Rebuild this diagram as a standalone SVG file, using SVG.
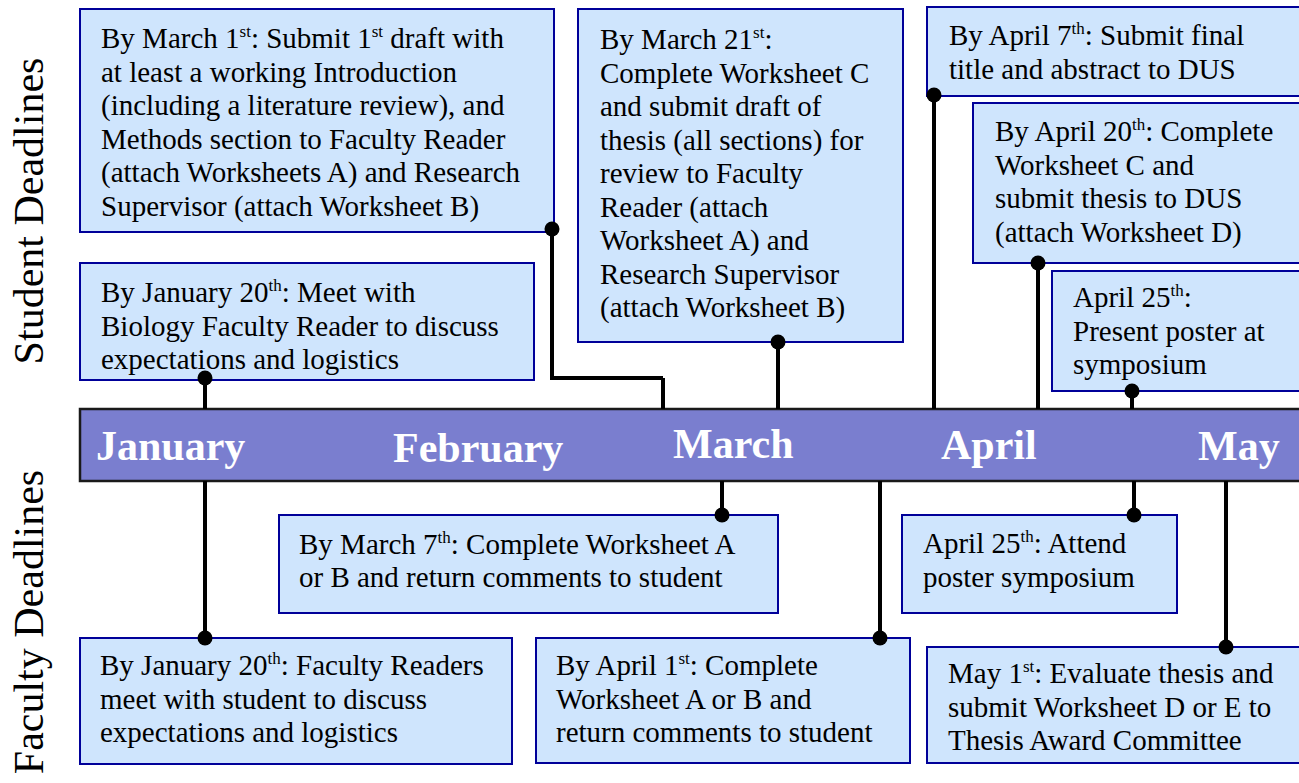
<svg xmlns="http://www.w3.org/2000/svg" width="1299" height="783" viewBox="0 0 1299 783">
<style>
.box{fill:#cfe5fd;stroke:#000099;stroke-width:2}
.t{font-family:"Liberation Serif","Times New Roman",serif;font-size:29px;fill:#000}
.sup{font-size:17px}
.m{font-family:"Liberation Serif","Times New Roman",serif;font-size:42px;font-weight:bold;fill:#fff}
.side{font-family:"Liberation Serif","Times New Roman",serif;font-size:42px;fill:#000}
.ln{stroke:#000;stroke-width:4;fill:none}
.dot{fill:#000}
</style>
<rect width="1299" height="783" fill="#fff"/>
<g id="labels">
<text class="side" text-anchor="middle" transform="translate(43,211) rotate(-90)">Student Deadlines</text>
<text class="side" text-anchor="middle" transform="translate(43,622) rotate(-90)">Faculty Deadlines</text>
</g>
<g id="timeline">
<rect x="80" y="409" width="1230" height="72" fill="#7a7ecf" stroke="#1a1a1a" stroke-width="2.5"/>
<text class="m" x="96" y="460">January</text>
<text class="m" x="393" y="462">February</text>
<text class="m" x="673" y="458">March</text>
<text class="m" x="941" y="459">April</text>
<text class="m" x="1198" y="460">May</text>
</g>
<g id="n-march1">
<rect class="box" x="80" y="9" width="474" height="223"/>
<text class="t" x="101" y="48">By March 1<tspan class="sup" dy="-11">st</tspan><tspan dy="11">: Submit 1</tspan><tspan class="sup" dy="-11">st</tspan><tspan dy="11"> draft with</tspan></text>
<text class="t" x="101" y="81.5">at least a working Introduction</text>
<text class="t" x="101" y="115">(including a literature review), and</text>
<text class="t" x="101" y="148.5">Methods section to Faculty Reader</text>
<text class="t" x="101" y="182">(attach Worksheets A) and Research</text>
<text class="t" x="101" y="215.5">Supervisor (attach Worksheet B)</text>
</g>
<g id="n-march21">
<rect class="box" x="578" y="9" width="325" height="333"/>
<text class="t" x="600" y="49">By March 21<tspan class="sup" dy="-11">st</tspan><tspan dy="11">:</tspan></text>
<text class="t" x="600" y="82.5">Complete Worksheet C</text>
<text class="t" x="600" y="116">and submit draft of</text>
<text class="t" x="600" y="149.5">thesis (all sections) for</text>
<text class="t" x="600" y="183">review to Faculty</text>
<text class="t" x="600" y="216.5">Reader (attach</text>
<text class="t" x="600" y="250">Worksheet A) and</text>
<text class="t" x="600" y="283.5">Research Supervisor</text>
<text class="t" x="600" y="317">(attach Worksheet B)</text>
</g>
<g id="n-april7">
<rect class="box" x="927" y="7" width="390" height="89"/>
<text class="t" x="949" y="45">By April 7<tspan class="sup" dy="-11">th</tspan><tspan dy="11">: Submit final</tspan></text>
<text class="t" x="949" y="78.5">title and abstract to DUS</text>
</g>
<g id="n-april20">
<rect class="box" x="973" y="103" width="340" height="160"/>
<text class="t" x="995" y="141">By April 20<tspan class="sup" dy="-11">th</tspan><tspan dy="11">: Complete</tspan></text>
<text class="t" x="995" y="174.5">Worksheet C and</text>
<text class="t" x="995" y="208">submit thesis to DUS</text>
<text class="t" x="995" y="241.5">(attach Worksheet D)</text>
</g>
<g id="n-april25s">
<rect class="box" x="1052" y="271" width="260" height="120"/>
<text class="t" x="1073" y="307">April 25<tspan class="sup" dy="-11">th</tspan><tspan dy="11">:</tspan></text>
<text class="t" x="1073" y="340.5">Present poster at</text>
<text class="t" x="1073" y="374">symposium</text>
</g>
<g id="n-jan20s">
<rect class="box" x="80" y="263" width="454" height="117"/>
<text class="t" x="101" y="302">By January 20<tspan class="sup" dy="-11">th</tspan><tspan dy="11">: Meet with</tspan></text>
<text class="t" x="101" y="335.5">Biology Faculty Reader to discuss</text>
<text class="t" x="101" y="369">expectations and logistics</text>
</g>
<g id="n-march7">
<rect class="box" x="279" y="515" width="499" height="98"/>
<text class="t" x="299" y="554">By March 7<tspan class="sup" dy="-11">th</tspan><tspan dy="11">: Complete Worksheet A</tspan></text>
<text class="t" x="299" y="587">or B and return comments to student</text>
</g>
<g id="n-jan20f">
<rect class="box" x="80" y="638" width="432" height="126"/>
<text class="t" x="100" y="675">By January 20<tspan class="sup" dy="-11">th</tspan><tspan dy="11">: Faculty Readers</tspan></text>
<text class="t" x="100" y="708.5">meet with student to discuss</text>
<text class="t" x="100" y="742">expectations and logistics</text>
</g>
<g id="n-april1">
<rect class="box" x="536" y="638" width="374" height="125"/>
<text class="t" x="556" y="675">By April 1<tspan class="sup" dy="-11">st</tspan><tspan dy="11">: Complete</tspan></text>
<text class="t" x="556" y="708.5">Worksheet A or B and</text>
<text class="t" x="556" y="742">return comments to student</text>
</g>
<g id="n-april25f">
<rect class="box" x="902" y="515" width="275" height="98"/>
<text class="t" x="923" y="553">April 25<tspan class="sup" dy="-11">th</tspan><tspan dy="11">: Attend</tspan></text>
<text class="t" x="923" y="586.5">poster symposium</text>
</g>
<g id="n-may1">
<rect class="box" x="927" y="647" width="390" height="116"/>
<text class="t" x="948" y="683">May 1<tspan class="sup" dy="-11">st</tspan><tspan dy="11">: Evaluate thesis and</tspan></text>
<text class="t" x="948" y="716.5">submit Worksheet D or E to</text>
<text class="t" x="948" y="750">Thesis Award Committee</text>
</g>
<g id="connectors">
<polyline class="ln" points="552,229 552,378 663,378"/>
<line class="ln" x1="663" y1="378" x2="663" y2="409"/>
<circle class="dot" cx="552" cy="229" r="7.5"/>
<line class="ln" x1="778" y1="342" x2="778" y2="409"/>
<circle class="dot" cx="778" cy="342" r="7.5"/>
<line class="ln" x1="934" y1="95" x2="934" y2="409"/>
<circle class="dot" cx="934" cy="95" r="7.5"/>
<line class="ln" x1="1038" y1="263" x2="1038" y2="409"/>
<circle class="dot" cx="1038" cy="263" r="7.5"/>
<line class="ln" x1="1132" y1="391" x2="1132" y2="409"/>
<circle class="dot" cx="1132" cy="391" r="7.5"/>
<line class="ln" x1="205" y1="378" x2="205" y2="409"/>
<circle class="dot" cx="205" cy="378" r="7.5"/>
<line class="ln" x1="722" y1="481" x2="722" y2="515"/>
<circle class="dot" cx="722" cy="515" r="7.5"/>
<line class="ln" x1="205" y1="481" x2="205" y2="638"/>
<circle class="dot" cx="205" cy="638" r="7.5"/>
<line class="ln" x1="880" y1="481" x2="880" y2="638"/>
<circle class="dot" cx="880" cy="638" r="7.5"/>
<line class="ln" x1="1134" y1="481" x2="1134" y2="515"/>
<circle class="dot" cx="1134" cy="515" r="7.5"/>
<line class="ln" x1="1226" y1="481" x2="1226" y2="647"/>
<circle class="dot" cx="1226" cy="647" r="7.5"/>
</g>
</svg>
